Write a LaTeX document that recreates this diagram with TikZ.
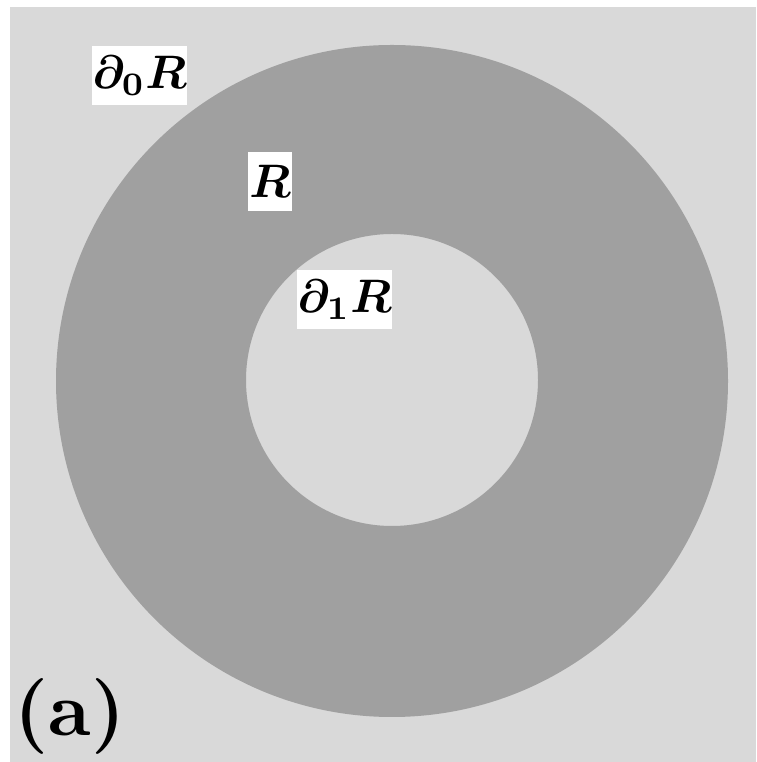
\documentclass[tikz,border=0pt]{standalone}
\usepackage{amsmath,bm,graphicx}
\definecolor{bgray}{HTML}{D9D9D9}
\definecolor{rgray}{HTML}{A0A0A0}
\newcommand{\biglab}[1]{\scalebox{4.7}{$\bm{#1}$}}
\begin{document}
\begin{tikzpicture}[x=1pt,y=1pt,
  lab/.style={fill=white,inner sep=0pt,minimum height=59pt}]
\useasboundingbox (0,0) rectangle (756,762);
\fill[white] (0,0) rectangle (756,762);
\fill[bgray] (10,0) rectangle (756,755);
\fill[rgray,even odd rule] (392,381) circle (336) (392,382) circle (146);
\node[lab,minimum width=91pt] (d0) at (139.5,686.5) {\biglab{\partial_0 R}};
\node[lab,minimum width=44pt] (r) at (270,580.5) {\biglab{R}};
\node[lab,minimum width=93pt] (d1) at (344.5,462) {\biglab{\partial_1 R}};
\node[inner sep=0pt,anchor=base] (a) at (70,26) {\scalebox{7.6}{\bfseries (a)}};
\end{tikzpicture}
\end{document}
